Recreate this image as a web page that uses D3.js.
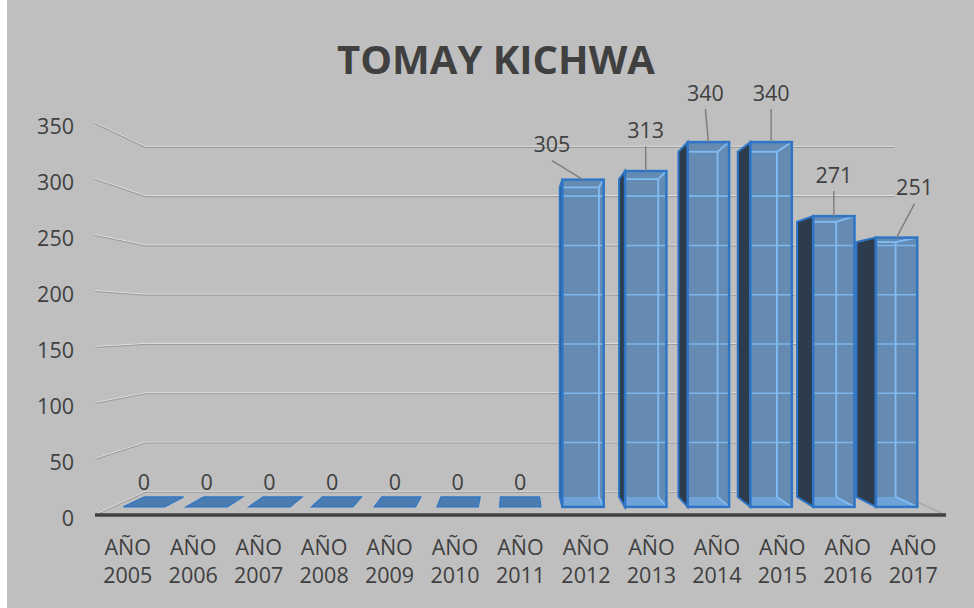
<!DOCTYPE html>
<html>
<head>
<meta charset="utf-8">
<script src="https://cdn.jsdelivr.net/npm/d3@7"></script>
<style>
  body { margin: 0; background: #fff; }
  svg { display: block; }
  text { font-family: "Open Sans", "Noto Sans", sans-serif; fill: #404040; }
</style>
</head>
<body>
<div id="chart"></div>
<script>
// datos del grafico
const chartTitle = "TOMAY KICHWA";
const categories = ["AÑO 2005", "AÑO 2006", "AÑO 2007", "AÑO 2008", "AÑO 2009", "AÑO 2010", "AÑO 2011",
                    "AÑO 2012", "AÑO 2013", "AÑO 2014", "AÑO 2015", "AÑO 2016", "AÑO 2017"];
const values = [0, 0, 0, 0, 0, 0, 0, 305, 313, 340, 340, 271, 251];
const yTicks = [0, 50, 100, 150, 200, 250, 300, 350];

// desplazamiento de etiquetas (como las coloca Excel)
const labelNudge = { 7: [-31, -35], 8: [0, -41], 9: [-3, -49], 10: [0, -49], 11: [0, -41], 12: [18, -50] };

const W = 974, H = 608;
const svg = d3.select("#chart").append("svg").attr("width", W).attr("height", H);

svg.append("rect").attr("x", 7).attr("y", 0).attr("width", W - 7).attr("height", H).attr("fill", "#bfbfbf");

// plano frontal
const x = d3.scaleBand().domain(categories).range([95, 946]).paddingInner(0.34).paddingOuter(0.17);
const y = d3.scaleLinear().domain([0, 350]).range([515, 123]);

// perspectiva simple
const vx = 515, vy = 322, shrink = 0.12;
const z0 = 0.35, z1 = 0.78;
function proj(X, Y, z) {
    const s = 1 - shrink * z;
    return [vx + (X - vx) * s, vy + (Y - vy) * s];
}
const line = d3.line();
const xLeft = x.range()[0], xRight = x.range()[1];

// paredes: lineas de division
const grid = svg.append("g");
yTicks.forEach(t => {
    const pts = [proj(xLeft, y(t), 0), proj(xLeft, y(t), 1), proj(xRight, y(t), 1)];
    grid.append("path").attr("d", line(pts)).attr("fill", "none")
        .attr("stroke", "#9c9c9c").attr("stroke-width", 2);
    grid.append("path").attr("d", line(pts.map(p => [p[0], p[1] - 0.6]))).attr("fill", "none")
        .attr("stroke", "#e2e2e2").attr("stroke-width", 1);
});

// borde derecho del piso
grid.append("path").attr("d", line([proj(xRight, y(0), 0), proj(xRight, y(0), 1)]))
    .attr("stroke", "#a3a3a3").attr("stroke-width", 1.2).attr("fill", "none");

// barras
const bars = svg.append("g");
categories.forEach((c, i) => {
    const v = values[i];
    const L = x(c), R = x(c) + x.bandwidth();
    const b = y(0), t = y(v);
    const g = bars.append("g");

    if (v === 0) {
        const pts = [proj(L, b, z0), proj(R, b, z0), proj(R, b, z1), proj(L, b, z1)];
        g.append("path").attr("d", line(pts) + "Z")
            .attr("fill", "#4b7db3").attr("stroke", "#2e75c5").attr("stroke-width", 1.2);
        return;
    }

    const FLb = proj(L, b, z0), FRb = proj(R, b, z0), BLb = proj(L, b, z1), BRb = proj(R, b, z1);
    const FLt = proj(L, t, z0), FRt = proj(R, t, z0), BLt = proj(L, t, z1), BRt = proj(R, t, z1);

    // cara lateral izquierda
    if (L > vx) {
        g.append("path").attr("d", line([FLb, BLb, BLt, FLt]) + "Z")
            .attr("fill", "#2d3c4d").attr("stroke", "#2e75c5").attr("stroke-width", 2);
    }

    // cara frontal
    g.append("rect").attr("x", FLt[0]).attr("y", FLt[1])
        .attr("width", FRt[0] - FLt[0]).attr("height", FLb[1] - FLt[1])
        .attr("fill", "#668bb3");

    // fondo visto a traves
    g.append("path").attr("d", line([FLb, FRb, BRb, [Math.max(BLb[0], FLb[0]), BLb[1]]]) + "Z")
        .attr("fill", "#6ea2d8");

    // lineas de division vistas a traves
    yTicks.filter(tk => tk > 0 && tk < v).forEach(tk => {
        const gy = proj(xLeft, y(tk), 1)[1];
        g.append("line").attr("x1", FLt[0]).attr("x2", FRt[0]).attr("y1", gy).attr("y2", gy)
            .attr("stroke", "#7db6ec").attr("stroke-width", 1.6);
    });

    // aristas traseras
    const inner = [[[Math.max(BLt[0], FLt[0]), BLt[1]], BRt], [BRt, BRb], [FRt, BRt], [FRb, BRb]];
    inner.forEach(seg => {
        g.append("path").attr("d", line(seg)).attr("fill", "none")
            .attr("stroke", "#80bdf5").attr("stroke-width", 1.8);
    });

    // contorno frontal
    g.append("rect").attr("x", FLt[0]).attr("y", FLt[1])
        .attr("width", FRt[0] - FLt[0]).attr("height", FLb[1] - FLt[1])
        .attr("fill", "none").attr("stroke", "#2e75c5").attr("stroke-width", 2.5);
});

// borde frontal del piso
svg.append("line").attr("x1", xLeft).attr("x2", xRight).attr("y1", y(0)).attr("y2", y(0))
    .attr("stroke", "#404040").attr("stroke-width", 3.5);

// etiquetas de datos
const labels = svg.append("g").style("font-size", "21.5px");
categories.forEach((c, i) => {
    const v = values[i];
    const cx = x(c) + x.bandwidth() / 2;
    const anchor = proj(cx, y(v), z0);
    const nudge = labelNudge[i] || [0, -24];
    const lx = anchor[0] + nudge[0], ly = anchor[1] + nudge[1];
    if (labelNudge[i]) {
        labels.append("line").attr("x1", lx).attr("y1", ly + 16).attr("x2", anchor[0]).attr("y2", anchor[1])
            .attr("stroke", "#7f7f7f").attr("stroke-width", 1.5);
    }
    labels.append("text").attr("x", lx).attr("y", ly + 7.5)
        .attr("text-anchor", "middle").text(v);
});

// eje vertical
const yAxis = svg.append("g").style("font-size", "21.5px");
yTicks.forEach(t => {
    yAxis.append("text").attr("x", 74).attr("y", y(t) + 10.5)
        .attr("text-anchor", "end").text(t);
});

// eje horizontal
const xAxis = svg.append("g").style("font-size", "21.5px");
categories.forEach(c => {
    const parts = c.split(" ");
    const txt = xAxis.append("text").attr("text-anchor", "middle");
    txt.append("tspan").attr("x", x(c) + x.bandwidth() / 2).attr("y", 555).text(parts[0]);
    txt.append("tspan").attr("x", x(c) + x.bandwidth() / 2).attr("y", 583).text(parts[1]);
});

// titulo
svg.append("text").attr("x", 496).attr("y", 74).attr("text-anchor", "middle")
    .style("font-size", "40px").style("font-weight", "bold").text(chartTitle);
</script>
</body>
</html>
